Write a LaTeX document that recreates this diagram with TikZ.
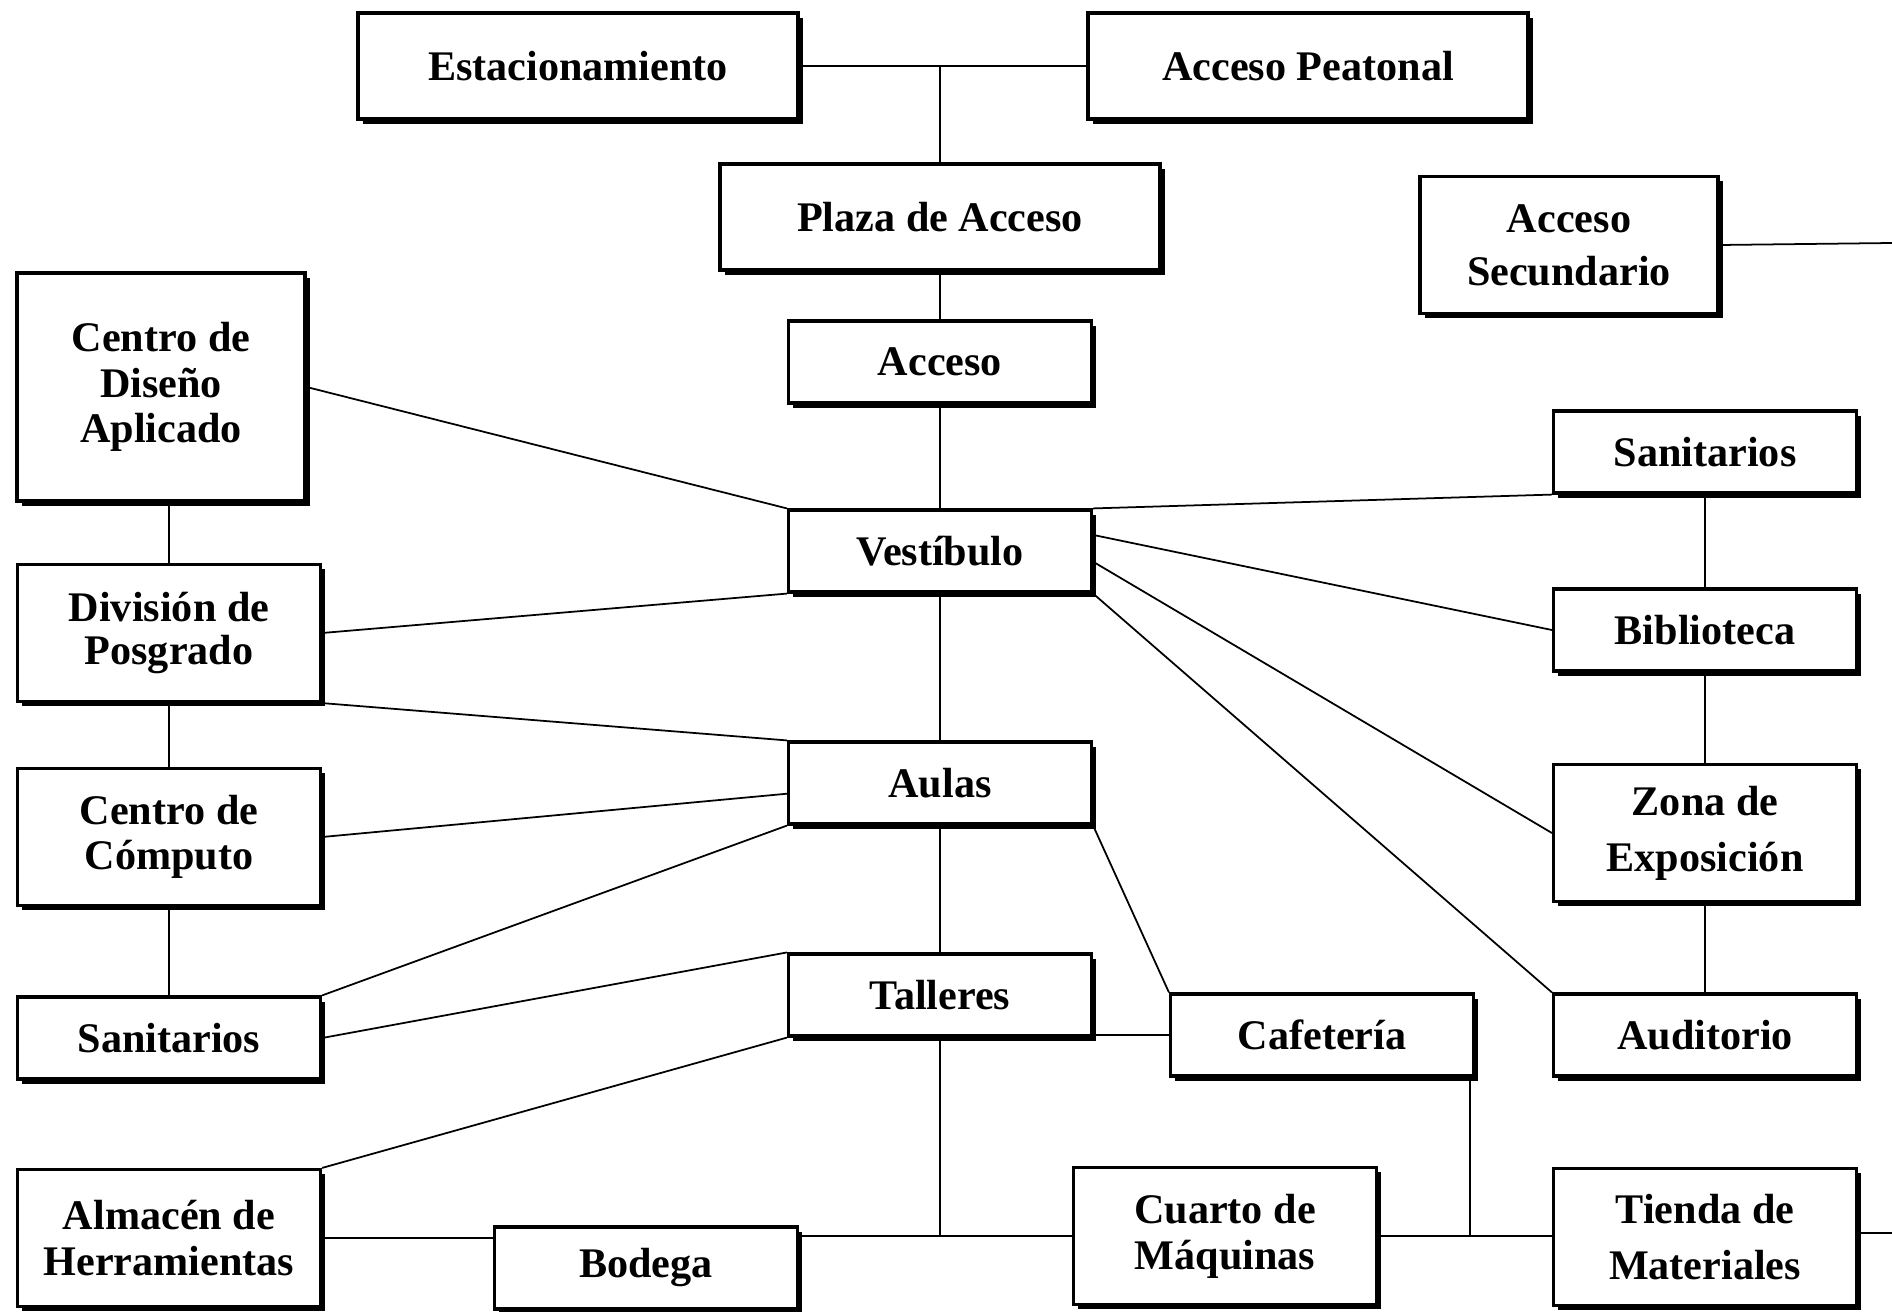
\documentclass[tikz,border=0pt]{standalone}
\usepackage{fontspec}
\setmainfont{Liberation Serif}
\usetikzlibrary{shadows,calc}

\begin{document}
\begin{tikzpicture}
  [conn/.style={line width=0.5pt},
   areaN/.style={draw,fill=white,line width=0.9pt,align=center,inner sep=0pt,
     minimum width=3.03cm,minimum height=0.82cm,
     font=\bfseries\fontsize{12}{13}\selectfont,
     drop shadow={shadow xshift=1.3pt,shadow yshift=-1.3pt,fill=black,opacity=1}},
   wideN/.style={areaN,minimum width=4.4cm,minimum height=1.06cm},
   tallN/.style={areaN,minimum height=1.37cm},
  ]

 \useasboundingbox (0,0) rectangle (18.92,-13.11);

 % eje central
 \node[wideN] (est)   at (5.78,-0.66)  {Estacionamiento};
 \node[wideN] (peat)  at (13.08,-0.66) {Acceso Peatonal};
 \node[wideN] (plaza) at (9.40,-2.17)  {Plaza de Acceso};
 \node[tallN,minimum width=2.98cm] (sec) at (15.69,-2.45) {Acceso\\[2pt]Secundario};
 \node[areaN] (acc)   at (9.40,-3.62)  {Acceso};
 \node[areaN] (vest)  at (9.40,-5.51)  {Vestíbulo};
 \node[areaN] (aul)   at (9.40,-7.83)  {Aulas};
 \node[areaN] (tal)   at (9.40,-9.95)  {Talleres};

 % columna izquierda
 \node[areaN,minimum width=2.88cm,minimum height=2.28cm]
              (cda)  at (1.61,-3.87)  {Centro de\\Diseño\\Aplicado};
 \node[tallN] (posg) at (1.69,-6.33)  {División de\\[-1pt]Posgrado};
 \node[tallN] (comp) at (1.69,-8.37)  {Centro de\\Cómputo};
 \node[areaN] (sanL) at (1.69,-10.38) {Sanitarios};
 \node[tallN] (alm)  at (1.69,-12.38) {Almacén de\\Herramientas};

 % columna derecha
 \node[areaN] (sanR) at (17.05,-4.52)  {Sanitarios};
 \node[areaN] (bib)  at (17.05,-6.30)  {Biblioteca};
 \node[tallN] (zona) at (17.05,-8.33)  {Zona de\\[3pt]Exposición};
 \node[areaN] (aud)  at (17.05,-10.35) {Auditorio};
 \node[tallN] (tie)  at (17.05,-12.37) {Tienda de\\[3pt]Materiales};

 % abajo
 \node[areaN] (caf)  at (13.22,-10.35) {Cafetería};
 \node[areaN] (bod)  at (6.46,-12.68)  {Bodega};
 \node[tallN] (cuar) at (12.25,-12.36) {Cuarto de\\Máquinas};

 \coordinate (secFin) at (18.92,-2.43);
 \coordinate (tieFin) at (18.92,-12.33);
 \coordinate (cafBaja) at ($(caf.south east)+(-0.05,0)$);

 \draw[conn] (est) -- (peat);
 \draw[conn] (plaza.north) -- (plaza.north |- est.east);
 \draw[conn] (plaza) -- (acc) -- (vest) -- (aul) -- (tal);
 \draw[conn] (sec.east) -- (secFin);

 \draw[conn] (posg.north) -- (posg.north |- cda.south);
 \draw[conn] (posg) -- (comp) -- (sanL);
 \draw[conn] (sanR) -- (bib) -- (zona) -- (aud);

 \draw[conn] (cda.east)          -- (vest.north west);
 \draw[conn] (vest.south west)   -- (posg.east);
 \draw[conn] (vest.north east)   -- (sanR.south west);
 \draw[conn] (vest.6)            -- (bib.west);
 \draw[conn] (vest.-4)           -- (zona.west);
 \draw[conn] (vest.south east)   -- (aud.north west);
 \draw[conn] (posg.south east)   -- (aul.north west);
 \draw[conn] (aul.184)           -- (comp.east);
 \draw[conn] (aul.south west)    -- (sanL.north east);
 \draw[conn] (aul.south east)    -- (caf.north west);
 \draw[conn] (tal.north west)    -- (sanL.east);
 \draw[conn] (tal.south west)    -- (alm.north east);
 \draw[conn] (tal.east |- caf.west) -- (caf.west);

 \draw[conn] (alm.east) -- (alm.east -| bod.west);
 \draw[conn] (bod.east |- cuar.west) -- (cuar.west);
 \draw[conn] (tal.south) -- (tal.south |- cuar.west);
 \draw[conn] (cuar.east) -- (cuar.east -| tie.west);
 \draw[conn] (cafBaja) -- (cafBaja |- cuar.east);
 \draw[conn] (tie.east |- tieFin) -- (tieFin);

\end{tikzpicture}
\end{document}
